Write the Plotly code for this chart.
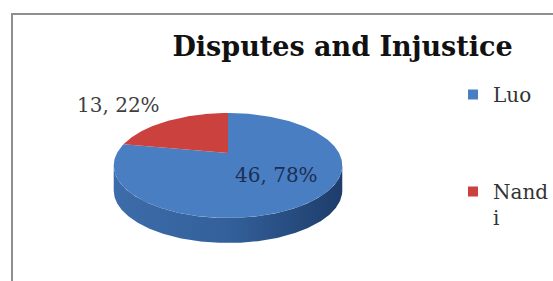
import numpy as np
import plotly.graph_objects as go

# ---- data ----
categories = ["Luo", "Nandi"]
values = [46, 13]
legend_labels = ["Luo", "Nand<br>i"]
title_text = "Disputes and Injustice"

colors_top = ["#4A7EC2", "#CB413D"]
side_colors = [[0, "#3D6CAA"], [0.5, "#33609A"], [1, "#1E3D6B"]]

W, H = 553, 281

# ---- 3D pie geometry (screen pixels) ----
cx = 228.0          # centre x
B = 153.0           # vertex y
A = 13.1            # perspective depth term
C = -0.238          # perspective factor
a0 = 111.0          # horizontal radius
depth = 25.0        # side wall thickness


def project(phi_deg, r=1.0):
    phi = np.radians(phi_deg)
    u = r * np.cos(phi)
    v = -r * np.sin(phi)          # positive = near (bottom of screen)
    den = 1 + C * v
    return cx + a0 * u / den, (A * v + B) / den


total = sum(values)
fracs = [v / total for v in values]
cum = np.concatenate([[0], np.cumsum(fracs)])
starts = 90 - 360 * cum[:-1]
ends = 90 - 360 * cum[1:]

fig = go.Figure()

# side wall: front arc of the rim between silhouette points, extruded downward
phis = np.linspace(0, -360, 721)
rx, ry = project(phis)
i_left = int(np.argmin(rx))
i_right = int(np.argmax(rx))
lo, hi = sorted([i_left, i_right])
arc_x, arc_y = rx[lo:hi + 1], ry[lo:hi + 1]
side_x = np.concatenate([arc_x, arc_x[::-1]])
side_y = np.concatenate([arc_y, arc_y[::-1] + depth])
fig.add_trace(go.Scatter(
    x=side_x, y=side_y, mode="lines", fill="toself",
    line=dict(width=0, color="#2A4F85"),
    fillgradient=dict(type="horizontal", colorscale=side_colors),
    hoverinfo="skip", showlegend=False))

# top face slices
for cat, s, e, col in zip(categories, starts, ends, colors_top):
    ph = np.linspace(s, e, 300)
    px, py = project(ph)
    xs = np.concatenate([[cx], px, [cx]])
    ys = np.concatenate([[B], py, [B]])
    fig.add_trace(go.Scatter(
        x=xs, y=ys, mode="lines", fill="toself", fillcolor=col,
        line=dict(width=0, color=col), name=cat,
        hoverinfo="name", showlegend=False))

# legend entries
for i, (lab, col) in enumerate(zip(legend_labels, colors_top)):
    fig.add_trace(go.Scatter(
        x=[None], y=[None], mode="markers", name=lab,
        legendgroup=f"g{i}",
        marker=dict(symbol="square", size=10, color=col)))

# data labels
pcts = [round(f * 100) for f in fracs]
label_pos = [(276, 175), (118, 105)]
label_colors = ["#1B2F57", "#3F3F3F"]
for v, p, (lx, ly), lc in zip(values, pcts, label_pos, label_colors):
    fig.add_annotation(x=lx, y=ly, text=f"{v}, {p}%", showarrow=False,
                       xanchor="center", yanchor="middle",
                       font=dict(family="DejaVu Serif", size=20, color=lc))

# chart-area border (extends beyond the cropped image)
fig.add_shape(type="rect", x0=12, y0=14, x1=W + 20, y1=H + 20,
              line=dict(color="#8E8E8E", width=2), fillcolor="rgba(0,0,0,0)",
              layer="below")

fig.update_layout(
    width=W, height=H,
    margin=dict(l=0, r=0, t=0, b=0, autoexpand=False),
    paper_bgcolor="white", plot_bgcolor="white",
    title=dict(text=title_text, x=342.5 / W, xanchor="center",
               y=1 - 47 / H, yanchor="middle", xref="paper", yref="container",
               automargin=False,
               font=dict(family="DejaVu Serif", size=27, weight=700,
                         color="#111111")),
    xaxis=dict(range=[0, W], visible=False, fixedrange=True),
    yaxis=dict(range=[H, 0], visible=False, fixedrange=True),
    showlegend=True,
    legend=dict(x=453 / W, y=1 - 75 / H, xanchor="left", yanchor="top",
                bgcolor="rgba(0,0,0,0)", traceorder="grouped",
                tracegroupgap=68, valign="top", itemwidth=30,
                font=dict(family="DejaVu Serif", size=20, color="#333333")),
)

fig.write_html("out.html",
               config={"displayModeBar": False},
               post_script="document.body.style.margin='0';"
                           "document.body.style.overflow='hidden';")
